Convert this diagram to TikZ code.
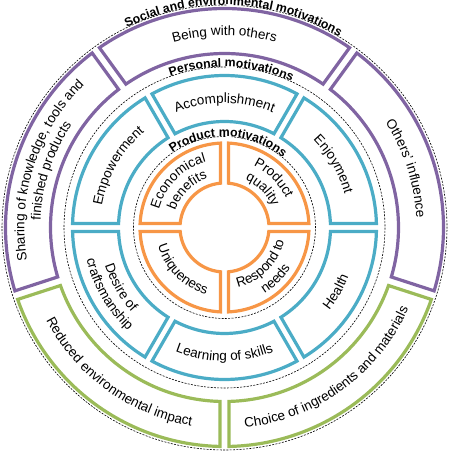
\documentclass[tikz,border=0pt]{standalone}
\usepackage{fontspec}
\setmainfont{Liberation Sans}
\usetikzlibrary{decorations.text}

\definecolor{corange}{HTML}{F79646}
\definecolor{cblue}{HTML}{4BACC6}
\definecolor{cpurple}{HTML}{8064A2}
\definecolor{cgreen}{HTML}{9BBB59}

\newcommand{\lblfont}{\fontsize{13.5}{16}\selectfont}
\newcommand{\hdfont}{\bfseries\fontsize{12.3}{14}\selectfont}

% annular sector with parallel gaps: #1 start angle, #2 end angle, #3 inner r, #4 outer r, #5 half gap, #6 style
\newcommand{\segbox}[6]{%
  \draw[#6] ({#1+asin(#5/#3)}:#3pt) -- ({#1+asin(#5/#4)}:#4pt)
    arc[start angle={#1+asin(#5/#4)}, end angle={#2-asin(#5/#4)}, radius=#4pt]
    -- ({#2-asin(#5/#3)}:#3pt)
    arc[start angle={#2-asin(#5/#3)}, end angle={#1+asin(#5/#3)}, radius=#3pt] -- cycle;}

% text along a clockwise arc (tops outward): #1 centre angle, #2 baseline radius, #3 text
\newcommand{\outtext}[3]{%
  \path[decorate,decoration={text along path,text align=center,text={|\lblfont|#3}}]
    ({#1+85}:#2pt) arc[start angle={#1+85}, end angle={#1-85}, radius=#2pt];}
% text along a counter-clockwise arc (tops inward)
\newcommand{\intext}[3]{%
  \path[decorate,decoration={text along path,text align=center,text={|\lblfont|#3}}]
    ({#1-85}:#2pt) arc[start angle={#1-85}, end angle={#1+85}, radius=#2pt];}

\newlength\hdwd
% dashed ring with bold heading: #1 radius, #2 text
\newcommand{\headring}[2]{%
  \settowidth{\hdwd}{\hdfont #2}%
  \pgfmathsetmacro{\halfang}{deg(0.5*\hdwd/#1)+2}%
  \draw[dashring] ({87.5+\halfang}:#1pt) arc[start angle={87.5+\halfang}, end angle={447.5-\halfang}, radius=#1pt];
  \path[decorate,decoration={text along path,text align=center,text={|\hdfont|#2}}]
    ({87.5+85}:#1pt) arc[start angle={87.5+85}, end angle={87.5-85}, radius=#1pt];}

\begin{document}
\begin{tikzpicture}[x=1pt,y=1pt,
  segline/.style={line width=3.2pt, line join=miter, fill=white},
  oseg/.style={segline, draw=corange},
  bseg/.style={segline, draw=cblue},
  pseg/.style={segline, draw=cpurple},
  gseg/.style={segline, draw=cgreen},
  dashring/.style={draw=black, line width=0.6pt, dash pattern=on 2pt off 1.3pt}]
\useasboundingbox (-224.5,-224.5) rectangle (228.5,227.5);
\clip (-224.5,-224.5) rectangle (228.5,227.5);

% dashed rings with headings
\headring{222.5}{Social and environmental motivations}
\headring{160.5}{Personal motivations}
\headring{91}{Product motivations}

% outer ring (social and environmental)
\segbox{54}{126}{174}{219}{4.5}{pseg}
\segbox{126}{198}{174}{219}{4.5}{pseg}
\segbox{-18}{54}{174}{219}{4.5}{pseg}
\segbox{198}{270}{174}{219}{4.5}{gseg}
\segbox{270}{342}{174}{219}{4.5}{gseg}

% middle ring (personal)
\segbox{60}{120}{106}{152}{4}{bseg}
\segbox{0}{60}{106}{152}{4}{bseg}
\segbox{120}{180}{106}{152}{4}{bseg}
\segbox{180}{240}{106}{152}{4}{bseg}
\segbox{240}{300}{106}{152}{4}{bseg}
\segbox{300}{360}{106}{152}{4}{bseg}

% inner ring (product)
\segbox{0}{90}{44.5}{84.5}{4}{oseg}
\segbox{90}{180}{44.5}{84.5}{4}{oseg}
\segbox{180}{270}{44.5}{84.5}{4}{oseg}
\segbox{270}{360}{44.5}{84.5}{4}{oseg}

% outer labels
\outtext{90}{192}{Being with others}
\outtext{18}{192}{Others’ influence}
\outtext{162}{200}{Sharing of knowledge, tools and}
\outtext{162}{184}{finished products}
\intext{234}{201}{Reduced environmental impact}
\intext{306}{201}{Choice of ingredients and materials}

% middle labels
\outtext{90}{124.5}{Accomplishment}
\outtext{30}{124.5}{Enjoyment}
\outtext{150}{124.5}{Empowerment}
\intext{330}{133.5}{Health}
\intext{270}{133.5}{Learning of skills}
\intext{210}{125.5}{Desire of}
\intext{210}{141.5}{craftsmanship}

% inner labels
\outtext{135}{68}{Economical}
\outtext{135}{52}{benefits}
\outtext{45}{68}{Product}
\outtext{45}{52}{quality}
\intext{225}{69}{Uniqueness}
\intext{315}{61}{Respond to}
\intext{315}{77}{needs}
\end{tikzpicture}
\end{document}
